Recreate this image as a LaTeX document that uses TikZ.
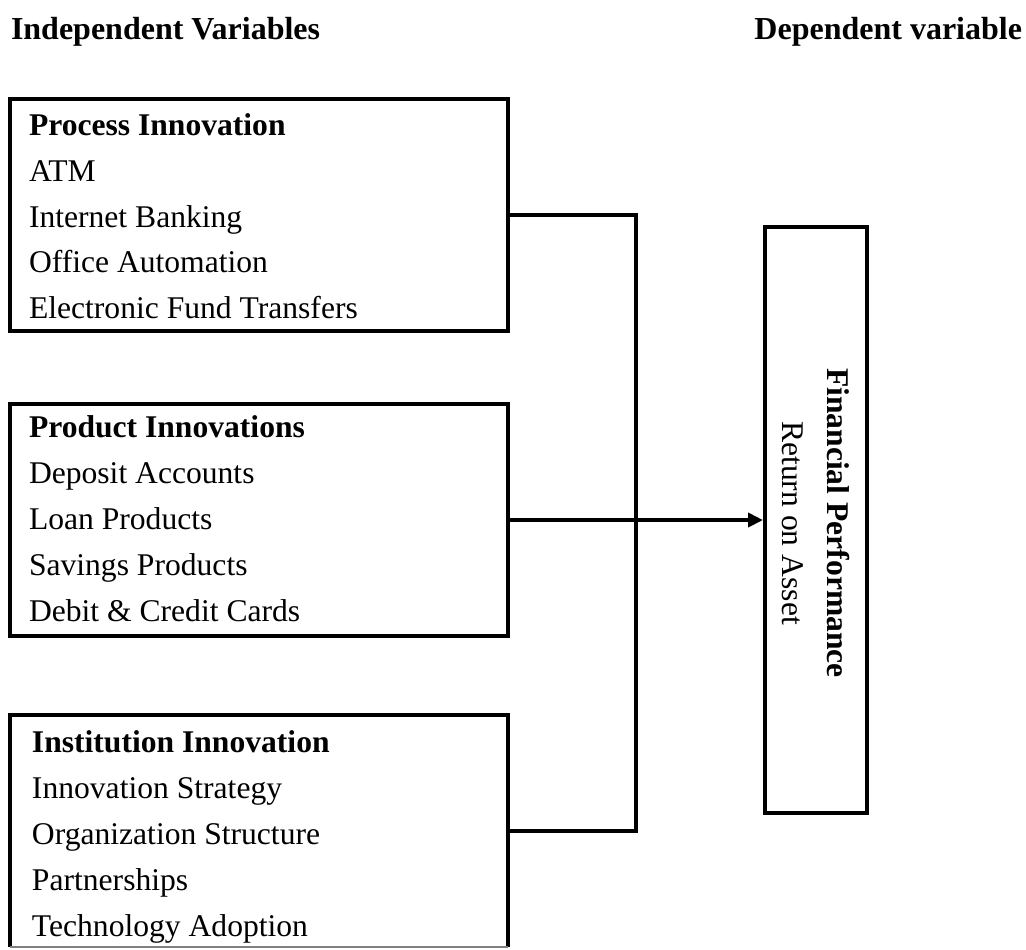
\documentclass[tikz,border=0pt]{standalone}
\usepackage{fontspec}
\setmainfont{Liberation Serif}
\usetikzlibrary{positioning, arrows.meta}

\begin{document}
\begin{tikzpicture}[x=0.5pt, y=-0.5pt, line width=2pt,
		font=\fontsize{15.8}{22.9}\selectfont,
		varbox/.style={draw, rectangle, minimum width=249pt, minimum height=116pt},
		vartext/.style={align=left, inner sep=0pt, anchor=north west},
		headtext/.style={inner sep=0pt, font=\fontsize{16}{22.9}\selectfont\bfseries}]
	\useasboundingbox (0,0) rectangle (1026,949);
	
	\node[headtext, anchor=base west] (indep) at (9,39) {Independent Variables};
	\node[headtext, anchor=base east] (dep) at (1024,39) {Dependent variable};
	
	\node[varbox] (proc) at (259,214.5) {};
	\node[vartext, below right=7.5pt and 9.5pt of proc.north west] (proc-txt)
		{\textbf{Process Innovation}\\ATM\\Internet Banking\\Office Automation\\Electronic Fund Transfers};
	
	\node[varbox] (prod) at (259,520) {};
	\node[vartext, below right=6pt and 9.5pt of prod.north west] (prod-txt)
		{\textbf{Product Innovations}\\Deposit Accounts\\Loan Products\\Savings Products\\Debit \& Credit Cards};
	
	\node[varbox, draw=none, outer sep=0pt] (inst) at (259,831) {};
	\node[vartext, below right=7pt and 10pt of inst.north west] (inst-txt)
		{\textbf{Institution Innovation}\\Innovation Strategy\\Organization Structure\\Partnerships\\Technology Adoption};
	\draw (inst.south west) -- (inst.north west) -- (inst.north east) -- (inst.south east);
	\draw[line width=0.6pt, gray] (inst.south west) -- (inst.south east);
	
	\node[draw, minimum width=51pt, minimum height=293pt] (perf) at (816,520) {};
	\node[rotate=-90, align=center, inner sep=0pt, xshift=1.5pt] (perf-txt) at (perf.center)
		{\textbf{Financial Performance}\\Return on Asset};
	
	\coordinate (bus) at (636,520);
	\draw (proc.east) -| (bus) |- (inst.east);
	\draw[-{Triangle[length=7.5pt, width=7pt]}] (prod.east) -- (perf.west);
\end{tikzpicture}
\end{document}
